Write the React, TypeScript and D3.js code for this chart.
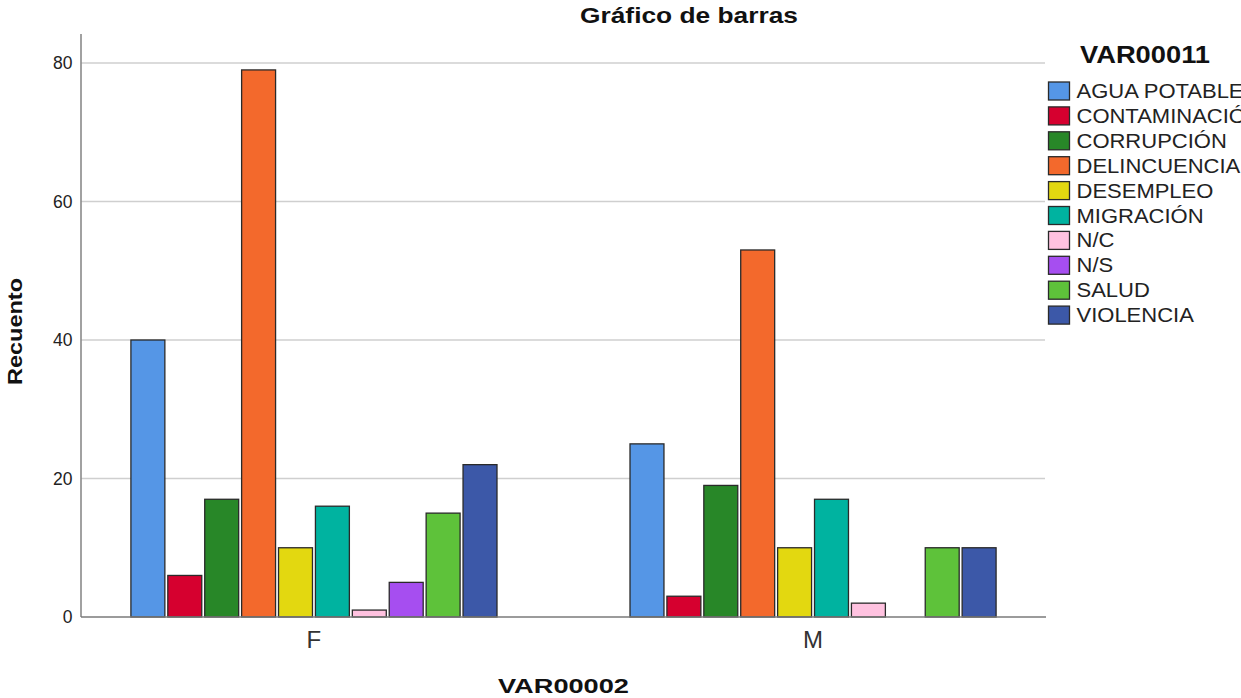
import React from "react";
import * as d3 from "d3";

const groups = ["F", "M"];
const categories = [
  "AGUA POTABLE",
  "CONTAMINACIÓN",
  "CORRUPCIÓN",
  "DELINCUENCIA",
  "DESEMPLEO",
  "MIGRACIÓN",
  "N/C",
  "N/S",
  "SALUD",
  "VIOLENCIA",
];
const valuesF = [40, 6, 17, 79, 10, 16, 1, 5, 15, 22];
const valuesM = [25, 3, 19, 53, 10, 17, 2, 0, 10, 10];
const colors = [
  "#5596e6",
  "#d6002f",
  "#288728",
  "#f3692c",
  "#e3d810",
  "#00b3a0",
  "#ffc2e0",
  "#a64ef0",
  "#5ec23a",
  "#3c58a8",
];
const yTicks = [0, 20, 40, 60, 80];

const W = 1241;
const H = 698;
const left = 81;
const right = 1046;
const top = 34;
const bottom = 617;
const FONT = "'Liberation Sans', Arial, sans-serif";

export default function App() {
  const y = d3.scaleLinear().domain([0, 80]).range([bottom, 63]);
  const x0 = d3
    .scaleBand<string>()
    .domain(groups)
    .range([left, right])
    .paddingInner(0.2665)
    .paddingOuter(0.1);
  const x1 = d3
    .scaleBand<string>()
    .domain(categories)
    .range([0, x0.bandwidth()])
    .paddingInner(0.08)
    .paddingOuter(0);
  const data: Record<string, number[]> = { F: valuesF, M: valuesM };

  return (
    <svg
      width={W}
      height={H}
      style={{ position: "absolute", left: 0, top: 0, background: "#fff" }}
    >
      <defs>
        <clipPath id="clipAll">
          <rect x={0} y={0} width={W} height={H} />
        </clipPath>
      </defs>
      <rect x={0} y={0} width={W} height={H} fill="#fff" />
      {/* gridlines */}
      {yTicks
        .filter((t) => t > 0)
        .map((t) => (
          <line
            key={t}
            x1={left}
            x2={1045}
            y1={y(t)}
            y2={y(t)}
            stroke="#cfcfcf"
            strokeWidth={1.5}
          />
        ))}
      {/* y tick labels */}
      {yTicks.map((t) => (
        <text
          key={t}
          x={72.5}
          y={y(t)}
          dy="0.36em"
          textAnchor="end"
          fontFamily={FONT}
          fontSize={17.5}
          fill="#222"
        >
          {t}
        </text>
      ))}
      {/* bars */}
      {groups.map((g) => (
        <g key={g} transform={`translate(${x0(g)},0)`}>
          {categories.map((c, i) => {
            const v = data[g][i];
            if (v <= 0) return null;
            return (
              <rect
                key={c}
                x={x1(c)}
                y={y(v)}
                width={x1.bandwidth()}
                height={bottom - y(v)}
                fill={colors[i]}
                stroke="#2a2a2a"
                strokeWidth={1.3}
              />
            );
          })}
        </g>
      ))}
      {/* axes */}
      <line x1={left} x2={left} y1={top} y2={bottom} stroke="#8a8a8a" strokeWidth={1.6} />
      <line x1={left} x2={right} y1={bottom} y2={bottom} stroke="#7a7a7a" strokeWidth={1.6} />
      {/* x labels */}
      {groups.map((g) => (
        <text
          key={g}
          x={(x0(g) as number) + x0.bandwidth() / 2}
          y={648}
          textAnchor="middle"
          fontFamily={FONT}
          fontSize={24}
          fill="#333"
        >
          {g}
        </text>
      ))}
      {/* titles */}
      <text
        x={580}
        y={22.5}
        fontFamily={FONT}
        fontSize={22}
        fontWeight="bold"
        fill="#111"
        textLength={218}
        lengthAdjust="spacingAndGlyphs"
      >
        Gráfico de barras
      </text>
      <text
        x={498}
        y={693}
        fontFamily={FONT}
        fontSize={21}
        fontWeight="bold"
        fill="#111"
        textLength={131}
        lengthAdjust="spacingAndGlyphs"
      >
        VAR00002
      </text>
      <text
        transform={`translate(21.5,385) rotate(-90)`}
        fontFamily={FONT}
        fontSize={21}
        fontWeight="bold"
        fill="#111"
        textLength={107}
        lengthAdjust="spacingAndGlyphs"
      >
        Recuento
      </text>
      {/* legend */}
      <g clipPath="url(#clipAll)">
        <text
          x={1080}
          y={63}
          fontFamily={FONT}
          fontSize={23}
          fontWeight="bold"
          fill="#111"
          textLength={130}
          lengthAdjust="spacingAndGlyphs"
        >
          VAR00011
        </text>
        {categories.map((c, i) => (
          <g key={c} transform={`translate(1048.5,${82 + i * 24.9})`}>
            <rect
              x={0}
              y={0}
              width={21}
              height={18}
              fill={colors[i]}
              stroke="#2a2a2a"
              strokeWidth={1.3}
            />
            <text
              transform="translate(28,16) scale(1.1,1)"
              fontFamily={FONT}
              fontSize={20}
              fill="#222"
            >
              {c}
            </text>
          </g>
        ))}
      </g>
    </svg>
  );
}
